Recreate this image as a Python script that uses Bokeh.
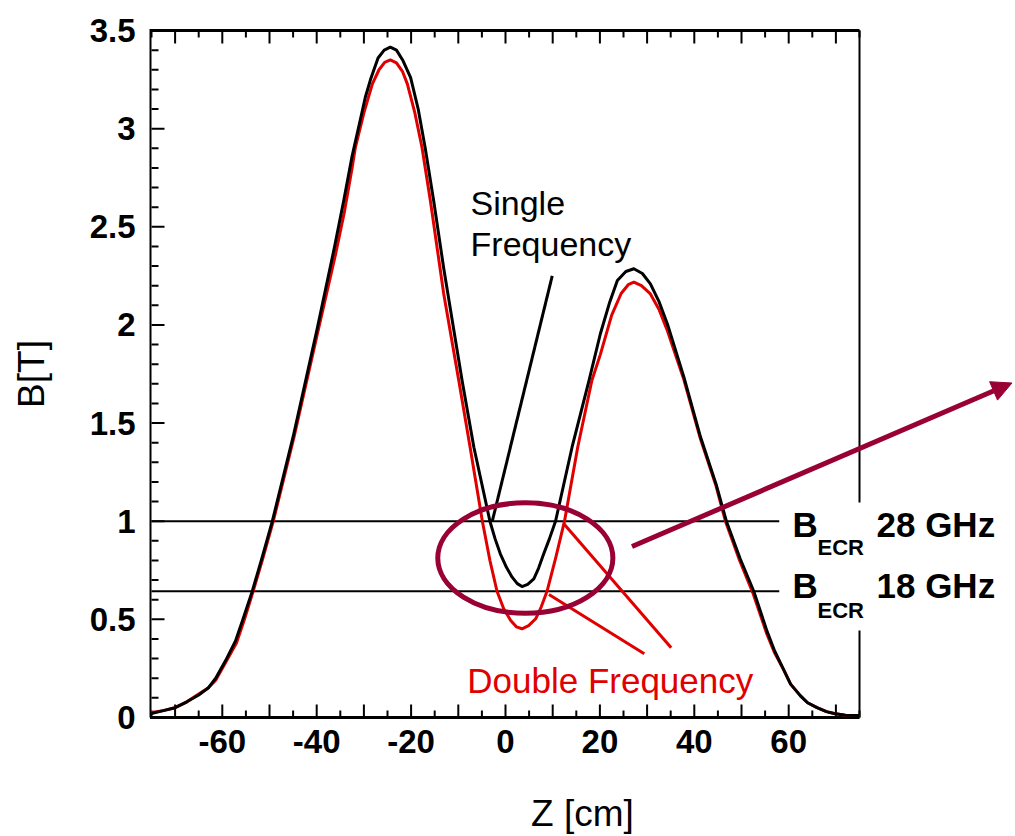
from bokeh.plotting import figure
from bokeh.models import (Range1d, FixedTicker, Label, Arrow, NormalHead,
                          CustomJSTickFormatter)
from bokeh.embed import file_html
from bokeh.resources import INLINE

# ---------------- data ----------------
z_single = [-75, -72.5, -70, -67.5, -65, -63, -61.4, -59.3, -57.2, -55.5,
            -53.7, -51.5, -49.4, -44.9, -39.9, -36.2, -34.3, -32.5, -31, -29.7,
            -28.6, -27, -25.7, -24.4, -23.1, -21.8, -20.1, -18.5, -17, -15.2,
            -13.1, -9.2, -6.7, -3.3, -2.2, -1.1, 0.2, 1.4, 2.5, 3.5,
            4.7, 6.0, 7.0, 8.1, 9.3, 10.6, 14.1, 17.7, 20.1, 22,
            23.7, 25.5, 27.2, 29, 30.7, 32.5, 34.3, 37.8, 41.3, 44.6,
            46.8, 49.7, 52.6, 55.4, 57, 59, 60.4, 62.5, 64, 66,
            68, 69.6, 72, 75]
b_single = [0.02, 0.035, 0.05, 0.08, 0.115, 0.15, 0.20, 0.29, 0.39, 0.51,
            0.64, 0.82, 1.0, 1.44, 1.98, 2.40, 2.63, 2.86, 3.02, 3.16,
            3.25, 3.36, 3.40, 3.415, 3.40, 3.35, 3.26, 3.10, 2.90, 2.63,
            2.29, 1.717, 1.377, 1.0, 0.91, 0.834, 0.765, 0.715, 0.682, 0.667,
            0.678, 0.706, 0.76, 0.834, 0.91, 1.0, 1.377, 1.717, 1.955, 2.11,
            2.226, 2.272, 2.286, 2.262, 2.209, 2.12, 2.005, 1.734, 1.43, 1.19,
            1.0, 0.81, 0.643, 0.44, 0.34, 0.24, 0.17, 0.11, 0.075, 0.05,
            0.03, 0.02, 0.012, 0.01]

z_double = [-75, -72.5, -70, -67.5, -65, -63, -61.4, -59.3, -57, -55.3,
            -53.5, -51.3, -49.2, -44.8, -39.8, -36, -34.1, -32.5, -31.8, -30,
            -28.2, -26.8, -25.6, -24.4, -23.1, -21.8, -20.8, -19.2, -17.7, -15.9,
            -13.1, -9.9, -7.5, -4.9, -3.3, -1.8, -0.4, 1.1, 2.3, 3.5,
            4.9, 6.4, 7.6, 8.8, 10.7, 12.5, 15.3, 18.3, 20.1, 22.5,
            24.5, 26, 27.2, 28.8, 30.7, 32.5, 34.3, 37.8, 41.3, 44.6,
            46.6, 49.6, 52.4, 55.3, 57, 59, 60.4, 62.5, 64, 66,
            68, 69.6, 72, 75]
b_double = [0.025, 0.035, 0.05, 0.08, 0.12, 0.15, 0.19, 0.28, 0.38, 0.50,
            0.64, 0.82, 1.0, 1.43, 1.96, 2.36, 2.58, 2.80, 2.905, 3.08,
            3.228, 3.30, 3.338, 3.35, 3.335, 3.29, 3.228, 3.08, 2.905, 2.63,
            2.16, 1.717, 1.377, 1.0, 0.80, 0.643, 0.555, 0.494, 0.462, 0.452,
            0.468, 0.503, 0.565, 0.643, 0.82, 1.0, 1.377, 1.717, 1.85, 2.05,
            2.16, 2.205, 2.218, 2.20, 2.158, 2.08, 1.97, 1.72, 1.42, 1.18,
            1.0, 0.80, 0.635, 0.43, 0.33, 0.24, 0.17, 0.11, 0.075, 0.05,
            0.03, 0.02, 0.012, 0.01]

ecr_levels = [1.0, 0.643]
ecr_labels = ["28 GHz", "18 GHz"]

x_major = [-70, -60, -50, -40, -30, -20, -10, 0, 10, 20, 30, 40, 50, 60, 70]
x_minor = [-75, -65, -55, -45, -35, -25, -15, -5, 5, 15, 25, 35, 45, 55, 65, 75]
y_major = [0, 0.5, 1, 1.5, 2, 2.5, 3, 3.5]
y_minor = [round(i * 0.1, 1) for i in range(36) if i % 5 != 0]

X_LO, X_HI = -75, 75
Y_LO, Y_HI = 0, 3.5

FONT = "Liberation Sans"
RED = "#e00000"
MAROON = "#990033"

# screen scale of the frame (px per data unit), used for tick lengths
PX_X = 708 / 150
PX_Y = 687 / 3.5
TICK_MAJ, TICK_MIN = 13, 7

# ---------------- figure ----------------
# frame extends past the right edge of the box so that the outside
# annotations (arrow, B_ECR labels) are not clipped
p = figure(width=1015, height=836,
           x_range=Range1d(X_LO - 2 / PX_X, X_HI + 156 / PX_X),
           y_range=Range1d(Y_LO - 2 / PX_Y, Y_HI + 2 / PX_Y),
           output_backend="svg", toolbar_location=None,
           min_border_left=149, min_border_right=0, min_border_top=28,
           min_border_bottom=117, x_axis_label="Z [cm]", y_axis_label="B[T]")
p.grid.visible = False
p.outline_line_color = None
p.background_fill_color = "white"
p.border_fill_color = "white"


def style_axis(ax, ticks, fmt_code):
    ax.ticker = FixedTicker(ticks=ticks, minor_ticks=[])
    ax.formatter = CustomJSTickFormatter(code=fmt_code)
    ax.axis_line_color = None
    ax.major_tick_line_color = None
    ax.minor_tick_line_color = None
    ax.major_tick_in = 0
    ax.major_tick_out = 0
    ax.minor_tick_in = 0
    ax.minor_tick_out = 0
    ax.major_label_text_font = FONT
    ax.major_label_text_font_style = "bold"
    ax.major_label_text_font_size = "33px"
    ax.major_label_text_color = "black"
    ax.axis_label_text_font = FONT
    ax.axis_label_text_font_style = "normal"
    ax.axis_label_text_font_size = "37px"
    ax.axis_label_text_color = "black"


xa = p.xaxis[0]
style_axis(xa, x_major, "return (Math.abs(tick) % 20 == 0) ? tick.toString() : '';")
xa.major_label_standoff = 10
xa.axis_label_standoff = 37
xa.axis_label_text_line_height = 1.0
xa.major_label_text_line_height = 1.0

ya = p.yaxis[0]
style_axis(ya, y_major, "return tick.toString();")
ya.major_label_standoff = 14
ya.axis_label_standoff = 35

# ---------------- box (frame lines) ----------------
p.segment(x0=[X_LO - 1.5 / PX_X, X_LO - 1.5 / PX_X, X_LO - 1.5 / PX_X],
          y0=[Y_LO, Y_LO, Y_HI],
          x1=[X_LO - 1.5 / PX_X, X_HI, X_HI],
          y1=[Y_HI + 1.5 / PX_Y, Y_LO, Y_HI],
          line_color="black", line_width=3)
# right edge, interrupted by the B_ECR labels
p.segment(x0=[X_HI, X_HI], y0=[Y_LO, 1.095], x1=[X_HI, X_HI], y1=[0.443, Y_HI],
          line_color="black", line_width=2)


# inward ticks
def ticks_x(xs, y, length_px, direction):
    p.segment(x0=xs, y0=[y] * len(xs), x1=xs,
              y1=[y + direction * length_px / PX_Y] * len(xs),
              line_color="black", line_width=2)


def ticks_y(ys, x, length_px):
    p.segment(x0=[x] * len(ys), y0=ys, x1=[x + length_px / PX_X] * len(ys), y1=ys,
              line_color="black", line_width=2)


ticks_x(x_major, Y_LO, TICK_MAJ, 1)
ticks_x(x_minor, Y_LO, TICK_MIN, 1)
ticks_x(x_major, Y_HI, TICK_MAJ, -1)
ticks_x(x_minor, Y_HI, TICK_MIN, -1)
ticks_y(y_major, X_LO, TICK_MAJ)
ticks_y(y_minor, X_LO, TICK_MIN)

# ECR resonance lines
ecr_line_end = 58
p.segment(x0=[X_LO] * 2, y0=ecr_levels, x1=[ecr_line_end] * 2, y1=ecr_levels,
          line_color="black", line_width=2)

# curves (red beneath black)
p.line(z_double, b_double, line_color=RED, line_width=3, line_join="round")
p.line(z_single, b_single, line_color="black", line_width=3, line_join="round")

# pointer lines
p.segment(x0=[9.9], y0=[2.25], x1=[-2.8], y1=[1.0], line_color="black", line_width=3)
p.segment(x0=[12.35, 9.2], y0=[0.987, 0.627], x1=[35.1, 29.4], y1=[0.355, 0.325],
          line_color=RED, line_width=3)

# ellipse around resonance region
p.ellipse(x=[4.2], y=[0.8125], width=37.1, height=0.562, fill_color=None,
          line_color=MAROON, line_width=5)

# arrow
p.add_layout(Arrow(end=NormalHead(size=20, fill_color=MAROON, line_color=MAROON),
                   x_start=26.8, y_start=0.871, x_end=107.3, y_end=1.704,
                   line_color=MAROON, line_width=5))

# annotations
p.add_layout(Label(x=-7.4, y=2.623, text="Single", text_font=FONT, text_font_size="34px",
                   text_baseline="alphabetic", text_color="black"))
p.add_layout(Label(x=-7.4, y=2.411, text="Frequency", text_font=FONT, text_font_size="34px",
                   text_baseline="alphabetic", text_color="black"))
p.add_layout(Label(x=-8.1, y=0.187, text="Double Frequency", text_font=FONT,
                   text_font_size="35px", text_baseline="alphabetic", text_color=RED))

label_base = [0.983, 0.672]
label_sub = [0.866, 0.545]
for yb, ys, txt in zip(label_base, label_sub, ecr_labels):
    p.add_layout(Label(x=60.8, y=yb, text="B", text_font=FONT, text_font_size="35px",
                       text_font_style="bold", text_baseline="alphabetic",
                       text_color="black"))
    p.add_layout(Label(x=66.1, y=ys, text="ECR", text_font=FONT, text_font_size="22px",
                       text_font_style="bold", text_baseline="alphabetic",
                       text_color="black"))
    p.add_layout(Label(x=78.6, y=yb, text=txt, text_font=FONT, text_font_size="35px",
                       text_font_style="bold", text_baseline="alphabetic",
                       text_color="black"))

open("out.html", "w").write(file_html(p, INLINE))
